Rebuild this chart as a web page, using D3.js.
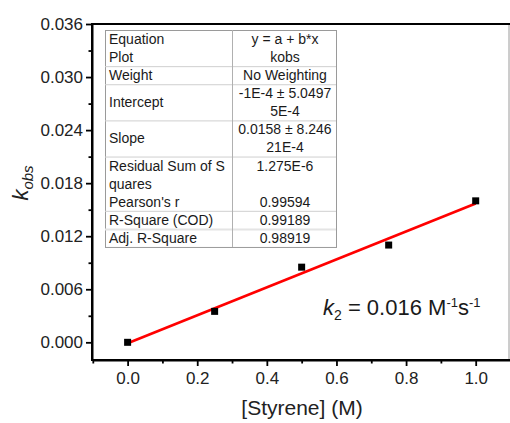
<!DOCTYPE html>
<html>
<head>
<meta charset="utf-8">
<script src="https://cdn.jsdelivr.net/npm/d3@7"></script>
<style>
  html, body { margin: 0; padding: 0; background: #fff; }
  svg { display: block; font-family: "Liberation Sans", Arial, sans-serif; }
</style>
</head>
<body>
<svg id="chart" width="510" height="423"></svg>
<script>
// ---- data ----
const styrene = [0, 0.25, 0.5, 0.75, 1.0];
const kobs = [0, 0.0035, 0.0085, 0.011, 0.016];
const fitIntercept = -1e-4;
const fitSlope = 0.0158;
const fitRange = [0, 1.0];
const xTicks = [0, 0.2, 0.4, 0.6, 0.8, 1.0];
const yTicks = [0, 0.006, 0.012, 0.018, 0.024, 0.030, 0.036];
const tableLabels = [["Equation"], ["Plot"], ["Weight"], ["Intercept"], ["Slope"],
  ["Residual Sum of S", "quares"], ["Pearson's r"], ["R-Square (COD)"], ["Adj. R-Square"]];
const tableValues = [["y = a + b*x"], ["kobs"], ["No Weighting"], ["-1E-4 \u00b1 5.0497", "5E-4"],
  ["0.0158 \u00b1 8.246", "21E-4"], ["1.275E-6"], ["0.99594"], ["0.99189"], ["0.98919"]];
const tableRuleAfter = [false, true, true, true, true, false, true, true, true];

(function () {
// ---- layout ----
const svg = d3.select("#chart");
const pLeft = 92, pRight = 510.5, pTop = 24, pBottom = 360;
const x = d3.scaleLinear().domain([-0.1, 1.1]).range([pLeft + 0.8, pRight]);
const y = d3.scaleLinear().domain([-0.002, 0.036]).range([pBottom, pTop]);

// frame (right edge thin)
svg.append("line").attr("x1", pRight - 1.5).attr("x2", pRight - 1.5).attr("y1", pTop).attr("y2", pBottom)
  .attr("stroke", "#9a9a9a").attr("stroke-width", 1);
svg.append("line").attr("x1", pLeft).attr("x2", pRight).attr("y1", pTop).attr("y2", pTop)
  .attr("stroke", "#000").attr("stroke-width", 2);

// axes
const xMinor = d3.range(-0.1, 1.11, 0.1).map(v => +v.toFixed(2)).filter(v => !xTicks.some(t => Math.abs(t - v) < 1e-6));
const yMinor = d3.range(0.003, 0.036, 0.006).map(v => +v.toFixed(3));

const xAxis = svg.append("g").attr("transform", `translate(0,${pBottom})`)
  .call(d3.axisBottom(x).tickValues(xTicks).tickFormat(d3.format(".1f")).tickSize(6).tickSizeOuter(0).tickPadding(6));
const yAxis = svg.append("g").attr("transform", `translate(${pLeft},0)`)
  .call(d3.axisLeft(y).tickValues(yTicks).tickFormat(d3.format(".3f")).tickSize(6).tickSizeOuter(0).tickPadding(3));
svg.append("g").attr("transform", `translate(0,${pBottom})`)
  .call(d3.axisBottom(x).tickValues(xMinor).tickFormat("").tickSize(3.5).tickSizeOuter(0));
svg.append("g").attr("transform", `translate(${pLeft},0)`)
  .call(d3.axisLeft(y).tickValues(yMinor).tickFormat("").tickSize(3.5).tickSizeOuter(0));

svg.selectAll(".domain").attr("stroke", "#000").attr("stroke-width", 2);
svg.selectAll(".tick line").attr("stroke", "#000").attr("stroke-width", 1.8);
svg.selectAll(".tick text").attr("font-size", 17).attr("fill", "#222").attr("font-family", "Liberation Sans, Arial, sans-serif");
xAxis.select(".domain").attr("d", `M${pLeft - 1},0H${pRight}`);
yAxis.select(".domain").attr("d", `M0,${pBottom + 1}V${pTop - 1}`);

// axis titles
svg.append("text").attr("x", 302).attr("y", 415).attr("text-anchor", "middle")
  .attr("font-size", 21).attr("fill", "#222").text("[Styrene] (M)");
const yl = svg.append("text").attr("transform", "translate(28,183) rotate(-90)").attr("text-anchor", "middle")
  .attr("font-size", 22).attr("fill", "#222");
yl.append("tspan").attr("font-style", "italic").text("k");
yl.append("tspan").attr("font-style", "italic").attr("font-size", 15).attr("dy", 5).text("obs");

// ---- stats table ----
const tX0 = 105, tX1 = 232, tX2 = 336, tY0 = 30, lineH = 18.08;
const tbl = svg.append("g");
let cy = tY0;
const rowInfo = tableLabels.map((lab, i) => {
  const n = Math.max(lab.length, tableValues[i].length);
  const r = { y0: cy, h: n * lineH };
  cy += r.h;
  return r;
});
const tY1 = cy;
tbl.append("rect").attr("x", tX0 + 0.5).attr("y", tY0 + 0.5).attr("width", tX2 - tX0).attr("height", tY1 - tY0)
  .attr("fill", "#fff").attr("stroke", "#9a9a9a");
rowInfo.forEach((r, i) => {
  if (tableRuleAfter[i] && i < rowInfo.length - 1) {
    tbl.append("line").attr("x1", tX0).attr("x2", tX2).attr("y1", r.y0 + r.h + 0.5).attr("y2", r.y0 + r.h + 0.5)
      .attr("stroke", i === 7 ? "#e4e4e4" : "#cfcfcf").attr("stroke-width", i === 7 ? 2 : 1);
  }
});
tbl.append("line").attr("x1", tX1 + 0.5).attr("x2", tX1 + 0.5).attr("y1", tY0).attr("y2", tY1)
  .attr("stroke", "#b0b0b0");
function cellText(lines, xPos, anchor, r) {
  const n = lines.length;
  const startY = r.y0 + r.h / 2 - (n * lineH) / 2;
  lines.forEach((t, k) => {
    tbl.append("text").attr("x", xPos).attr("y", startY + k * lineH + 14)
      .attr("text-anchor", anchor).attr("font-size", 14).attr("fill", "#1a1a1a").text(t);
  });
}
rowInfo.forEach((r, i) => {
  if (i === 5) {
    cellText(tableLabels[i], tX0 + 4, "start", { y0: r.y0, h: lineH * tableLabels[i].length });
    cellText(tableValues[i], (tX1 + tX2) / 2 + 1, "middle", { y0: r.y0, h: lineH });
  } else {
    cellText(tableLabels[i], tX0 + 4, "start", r);
    cellText(tableValues[i], (tX1 + tX2) / 2 + 1, "middle", r);
  }
});

// ---- fit line ----
svg.append("line")
  .attr("x1", x(fitRange[0])).attr("y1", y(fitIntercept + fitSlope * fitRange[0]))
  .attr("x2", x(fitRange[1])).attr("y2", y(fitIntercept + fitSlope * fitRange[1]))
  .attr("stroke", "#ff0000").attr("stroke-width", 2.6);

// ---- points ----
svg.append("g").selectAll("rect").data(styrene.map((s, i) => [s, kobs[i]])).join("rect")
  .attr("x", d => x(d[0]) - 3.5).attr("y", d => y(d[1]) - 3.5)
  .attr("width", 7).attr("height", 7).attr("fill", "#000");

// ---- annotation ----
const ann = svg.append("text").attr("x", 323).attr("y", 315).attr("font-size", 22).attr("fill", "#1a1a1a");
ann.append("tspan").attr("font-style", "italic").text("k");
ann.append("tspan").attr("font-size", 14).attr("dy", 5).text("2");
ann.append("tspan").attr("dy", -5).text(" = 0.016 M");
ann.append("tspan").attr("font-size", 13).attr("dy", -8).text("-1");
ann.append("tspan").attr("dy", 8).text("s");
ann.append("tspan").attr("font-size", 13).attr("dy", -8).text("-1");
})();
</script>
</body>
</html>
